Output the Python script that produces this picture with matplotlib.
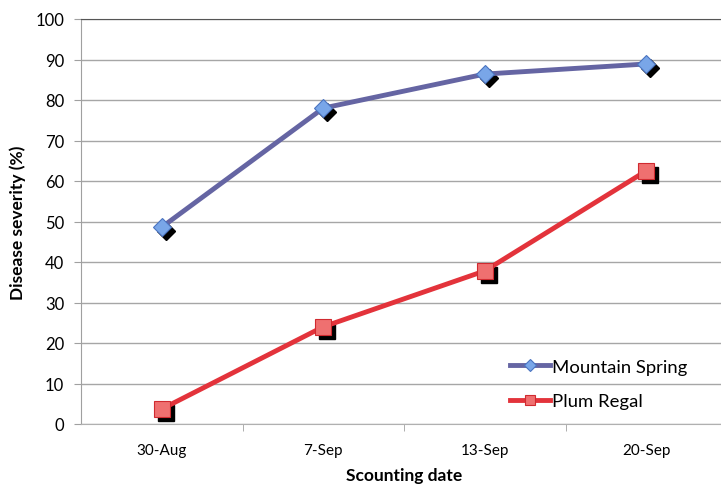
import matplotlib.pyplot as plt
from matplotlib.transforms import offset_copy

# Scouting dates and disease severity (%) per cultivar
dates = ['30-Aug', '7-Sep', '13-Sep', '20-Sep']
mountain_spring = [48.6, 78.0, 86.4, 88.9]
plum_regal = [3.7, 24.0, 37.8, 62.5]

plt.rcParams['font.family'] = ['Lato', 'DejaVu Sans']

fig = plt.figure(figsize=(7.21, 4.85), dpi=100)
ax = fig.add_axes([81 / 721, 60 / 485, 646 / 721, 405 / 485])

x = list(range(len(dates)))

# black drop shadow under the markers
shadow = offset_copy(ax.transData, fig=fig, x=3, y=-3, units='points')
ax.plot(x, mountain_spring, linestyle='none', marker='D', markersize=9,
        color='black', transform=shadow, zorder=3)
ax.plot(x, plum_regal, linestyle='none', marker='s', markersize=11,
        color='black', transform=shadow, zorder=3)

ax.plot(x, mountain_spring, color='#6565a3', linewidth=3.5, marker='D', markersize=9,
        markerfacecolor='#79a6e8', markeredgecolor='#4a73c0', markeredgewidth=0.8,
        label='Mountain Spring', zorder=4)
ax.plot(x, plum_regal, color='#e3333b', linewidth=3.5, marker='s', markersize=11,
        markerfacecolor='#ef7070', markeredgecolor='#d02a30', markeredgewidth=0.8,
        label='Plum Regal', zorder=4)

ax.set_xlim(-0.5, 3.5)
ax.set_ylim(0, 100)
ax.set_yticks(range(0, 101, 10))
ax.set_xticks(x)
ax.set_xticklabels(dates)
# ticks between categories on the x axis
ax.set_xticks([0.5, 1.5, 2.5], minor=True)
ax.tick_params(axis='x', which='major', length=0, labelsize=11, pad=14)
ax.tick_params(axis='x', which='minor', length=5, color='#a0a0a0')
ax.tick_params(axis='y', length=5, color='#a0a0a0', labelsize=12, pad=7)

ax.grid(axis='y', color='#a6a6a6', linewidth=1)
ax.set_axisbelow(True)
ax.spines['right'].set_visible(False)
ax.spines['top'].set_color('#555555')
ax.spines['left'].set_color('#a0a0a0')
ax.spines['bottom'].set_color('#b0b0b0')

ax.set_xlabel('Scounting date', fontsize=12.5, fontweight='bold', labelpad=7)
ax.set_ylabel('Disease severity (%)', fontsize=12.5, fontweight='bold', labelpad=7)

leg = ax.legend(loc='lower left', bbox_to_anchor=(0.652, 0.018), frameon=False,
                fontsize=13.3, handlelength=2.2, markerscale=0.7, labelspacing=1.0,
                handletextpad=0.1, borderaxespad=0)

fig.savefig('out.png', dpi=100)
